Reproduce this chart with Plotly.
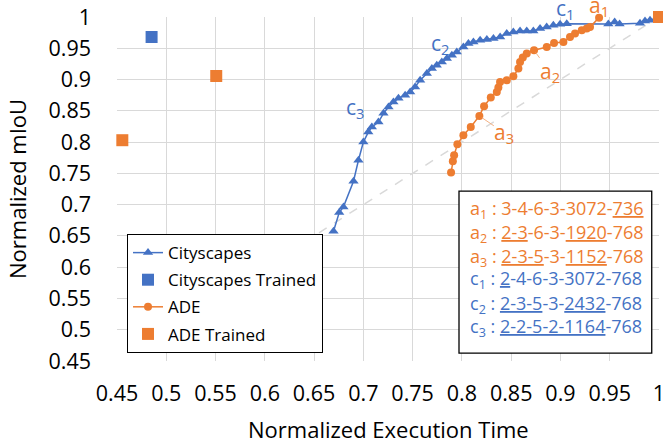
import plotly.graph_objects as go

BLUE = "#4472C4"
ORANGE = "#ED7D31"
GRID = "#D9D9D9"
FONT = "Open Sans"

# ---------------- data ----------------
cityscapes_x = [0.6697, 0.6755, 0.6798, 0.690, 0.695, 0.700, 0.705, 0.7086, 0.7153, 0.7204,
                0.7255, 0.7305, 0.7356, 0.7424, 0.7475, 0.7525, 0.7576, 0.7644, 0.7695, 0.7745,
                0.7796, 0.7847, 0.7898, 0.7948, 0.8015, 0.8066, 0.8117, 0.8185, 0.8253, 0.832,
                0.8388, 0.8455, 0.8522, 0.859, 0.8658, 0.8725, 0.8793, 0.886, 0.8928, 0.8996,
                0.9064, 0.9486, 0.955, 0.960, 0.9807, 0.9858, 0.9909, 1.0]
cityscapes_y = [0.6576, 0.6874, 0.6964, 0.7375, 0.771, 0.800, 0.816, 0.824, 0.832, 0.846,
                0.856, 0.864, 0.870, 0.875, 0.880, 0.888, 0.899, 0.9096, 0.9175, 0.9228,
                0.928, 0.9335, 0.9388, 0.944, 0.952, 0.9575, 0.960, 0.9628, 0.9639, 0.9655,
                0.968, 0.9735, 0.976, 0.9776, 0.9776, 0.9776, 0.9815, 0.984, 0.9867, 0.9883,
                0.9894, 0.989, 0.992, 0.989, 0.990, 0.9936, 0.9947, 1.0]

ade_x = [0.789, 0.7908, 0.7921, 0.7954, 0.8015, 0.809, 0.8177, 0.8225, 0.8293, 0.8354,
         0.837, 0.8387, 0.8455, 0.8522, 0.8573, 0.859, 0.8618, 0.8658, 0.8732, 0.8861,
         0.8935, 0.903, 0.9097, 0.9148, 0.9216, 0.9267, 0.930, 0.9392]
ade_y = [0.7514, 0.7694, 0.779, 0.7966, 0.811, 0.8242, 0.8418, 0.8573, 0.8712, 0.8802,
         0.8872, 0.8961, 0.8988, 0.9052, 0.9175, 0.9281, 0.9351, 0.9415, 0.9468, 0.952,
         0.9585, 0.960, 0.968, 0.9735, 0.9787, 0.9815, 0.984, 0.999]

cs_trained_x = [0.4851, 1.0]
cs_trained_y = [0.968, 1.0]
ade_trained_x = [0.4554, 0.5507, 1.0]
ade_trained_y = [0.803, 0.9057, 1.0]

diag_x = [0.655, 1.0]
diag_y = [0.655, 1.0]

tick_vals = [0.45, 0.5, 0.55, 0.6, 0.65, 0.7, 0.75, 0.8, 0.85, 0.9, 0.95, 1.0]
tick_text = ["0.45", "0.5", "0.55", "0.6", "0.65", "0.7", "0.75", "0.8", "0.85", "0.9", "0.95", "1"]

config_lines = [
    ("a<sub>1</sub> : 3-4-6-3-3072-<u>736</u>", ORANGE),
    ("a<sub>2</sub> : <u>2-3</u>-6-3-<u>1920</u>-768", ORANGE),
    ("a<sub>3</sub> : <u>2-3-5</u>-3-<u>1152</u>-768", ORANGE),
    ("c<sub>1</sub> : <u>2</u>-4-6-3-3072-768", BLUE),
    ("c<sub>2</sub> : <u>2-3-5</u>-3-<u>2432</u>-768", BLUE),
    ("c<sub>3</sub> : <u>2-2-5-2-1164</u>-768", BLUE),
]

# ---------------- figure ----------------
fig = go.Figure()

fig.add_trace(go.Scatter(x=diag_x, y=diag_y, mode="lines",
                         line=dict(color=GRID, width=1.5, dash="dash"),
                         showlegend=False, hoverinfo="skip"))
fig.add_trace(go.Scatter(x=cityscapes_x, y=cityscapes_y, mode="lines+markers", name="Cityscapes",
                         line=dict(color=BLUE, width=1.5),
                         marker=dict(symbol="triangle-up", size=9, color=BLUE),
                         cliponaxis=False, legendgroup="g1"))
fig.add_trace(go.Scatter(x=cs_trained_x, y=cs_trained_y, mode="markers", name="Cityscapes Trained",
                         marker=dict(symbol="square", size=12, color=BLUE),
                         cliponaxis=False, legendgroup="g2"))
fig.add_trace(go.Scatter(x=ade_x, y=ade_y, mode="lines+markers", name="ADE",
                         line=dict(color=ORANGE, width=1.5),
                         marker=dict(symbol="circle", size=8, color=ORANGE),
                         cliponaxis=False, legendgroup="g3"))
fig.add_trace(go.Scatter(x=ade_trained_x, y=ade_trained_y, mode="markers", name="ADE Trained",
                         marker=dict(symbol="square", size=12, color=ORANGE),
                         cliponaxis=False, legendgroup="g4"))

# config box
fig.add_shape(type="rect", xref="paper", yref="paper", x0=0.631, x1=0.9866, y0=0.023, y1=0.494,
              line=dict(color="black", width=1.3), fillcolor="white", layer="above")
line_y = [0.439, 0.372, 0.302, 0.2355, 0.163, 0.096]
for (txt, col), yy in zip(config_lines, line_y):
    fig.add_annotation(xref="paper", yref="paper", x=0.6476, y=yy, text=txt, showarrow=False,
                       xanchor="left", yanchor="middle",
                       font=dict(family=FONT, size=18, color=col))

# point labels
lab_font = lambda c: dict(family=FONT, size=21, color=c)
fig.add_annotation(x=0.905, y=1.0236, yref="paper", text="c<sub>1</sub>", showarrow=False,
                   xanchor="center", yanchor="middle", font=lab_font(BLUE))
fig.add_annotation(x=0.778, y=0.957, text="c<sub>2</sub>", showarrow=False, font=lab_font(BLUE))
fig.add_annotation(x=0.6917, y=0.854, text="c<sub>3</sub>", showarrow=False, font=lab_font(BLUE))
fig.add_annotation(x=0.939, y=1.033, yref="paper", text="a<sub>1</sub>", showarrow=False,
                   xanchor="center", yanchor="middle", font=lab_font(ORANGE))
fig.add_annotation(x=ade_x[18], y=ade_y[18], ax=16, ay=22, text="a<sub>2</sub>", showarrow=True,
                   arrowhead=0, arrowwidth=1, arrowcolor="#F4B183", standoff=3, borderpad=0,
                   font=lab_font(ORANGE))
fig.add_annotation(x=ade_x[6], y=ade_y[6], ax=25, ay=17, text="a<sub>3</sub>", showarrow=True,
                   arrowhead=0, arrowwidth=1, arrowcolor="#F4B183", standoff=3, borderpad=0,
                   font=lab_font(ORANGE))

# axis titles
fig.add_annotation(xref="paper", yref="paper", x=0.5, y=-0.197, text="Normalized Execution Time",
                   showarrow=False, xanchor="center", yanchor="middle",
                   font=dict(family=FONT, size=22, color="black"))
fig.add_annotation(xref="paper", yref="paper", x=-0.1845, y=0.5, text="Normalized mIoU",
                   showarrow=False, xanchor="center", yanchor="middle", textangle=-90,
                   font=dict(family=FONT, size=22, color="black"))

axis_common = dict(range=[0.45, 1.0], tickvals=tick_vals, ticktext=tick_text,
                   showgrid=True, gridcolor=GRID, gridwidth=1, zeroline=False, automargin=False,
                   showline=False, ticks="", ticklabeloverflow="allow",
                   tickfont=dict(family=FONT, size=21.5, color="black"))

fig.update_layout(
    width=663, height=443,
    margin=dict(l=117, r=4, t=17, b=82),
    paper_bgcolor="white", plot_bgcolor="white",
    font=dict(family=FONT, color="black"),
    xaxis=dict(**axis_common, ticklabelstandoff=17),
    yaxis=dict(**axis_common, ticklabelstandoff=25),
    legend=dict(x=0.0185, y=0.369, xanchor="left", yanchor="top",
                bordercolor="black", borderwidth=1, bgcolor="white",
                font=dict(family=FONT, size=17, color="black"),
                tracegroupgap=2, itemwidth=30),
    showlegend=True,
)

fig.write_html("out.html", config={"displayModeBar": False},
               post_script="document.body.style.margin='0px';document.body.style.overflow='hidden';")
